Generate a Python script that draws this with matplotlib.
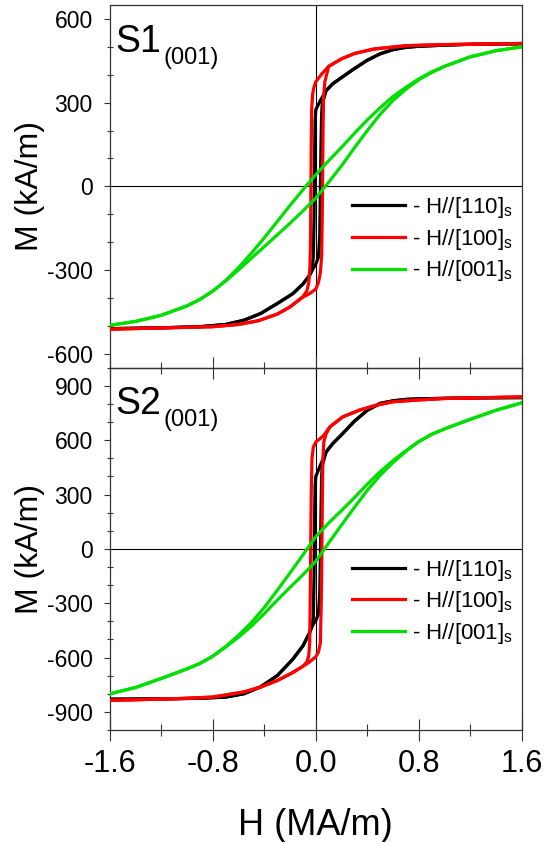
import matplotlib.pyplot as plt
from matplotlib.ticker import MultipleLocator

plt.rcParams['font.family'] = ['Liberation Sans', 'DejaVu Sans']
plt.rcParams['mathtext.fontset'] = 'custom'
plt.rcParams['mathtext.rm'] = 'Liberation Sans'
plt.rcParams['mathtext.it'] = 'Liberation Sans:italic'
plt.rcParams['axes.unicode_minus'] = False

# H in MA/m, M in kA/m; each loop is stored as its two branches
# --- S1 ---
H1_blk_dn = [1.6, 1.2, 1.0, 0.8, 0.7, 0.6, 0.5, 0.4, 0.3, 0.2, 0.13, 0.08, 0.04, 0.0,
             -0.006, -0.01, -0.014, -0.02, -0.03, -0.05, -0.1, -0.18, -0.3, -0.43,
             -0.56, -0.7, -0.9, -1.2, -1.6]
M1_blk_dn = [511, 509, 506, 502, 498, 490, 475, 452, 422, 390, 367, 343, 312, 275,
             235, 100, -120, -255, -295, -320, -350, -385, -420, -456,
             -480, -495, -503, -507, -510]
H1_blk_up = [-1.6, -1.2, -0.9, -0.7, -0.56, -0.43, -0.3, -0.18, -0.1, -0.05, -0.015,
             0.0, 0.02, 0.03, 0.035, 0.04, 0.045, 0.05, 0.08, 0.13, 0.2, 0.3, 0.4,
             0.5, 0.6, 0.7, 0.8, 1.0, 1.2, 1.6]
M1_blk_up = [-510, -507, -503, -495, -480, -456, -420, -385, -350, -320, -290,
             -278, -255, -180, -20, 150, 260, 295, 343, 367, 390, 422, 452,
             475, 490, 498, 502, 506, 509, 511]

H1_red_dn = [1.6, 1.0, 0.7, 0.45, 0.3, 0.2, 0.1, 0.05, 0.0, -0.015, -0.025, -0.032,
             -0.036, -0.039, -0.042, -0.047, -0.055, -0.07, -0.1, -0.2, -0.3, -0.45,
             -0.6, -0.8, -1.6]
M1_red_dn = [512, 508, 504, 492, 476, 457, 430, 405, 375, 355, 330, 280,
             150, -50, -220, -300, -345, -375, -395, -432, -458, -482,
             -495, -503, -512]
H1_red_up = [-1.6, -0.8, -0.6, -0.45, -0.3, -0.2, -0.1, -0.05, 0.0, 0.02, 0.035,
             0.045, 0.05, 0.053, 0.056, 0.06, 0.07, 0.1, 0.2, 0.3, 0.45, 0.7, 1.0, 1.6]
M1_red_up = [-512, -503, -495, -482, -458, -432, -397, -385, -368, -345, -310,
             -250, -100, 50, 200, 320, 375, 430, 457, 476, 492, 504, 508, 512]

H_grn = [-1.6, -1.4, -1.2, -1.0, -0.9, -0.8, -0.7, -0.6, -0.5, -0.4, -0.3, -0.2, -0.1,
         0.0, 0.1, 0.2, 0.3, 0.4, 0.5, 0.6, 0.7, 0.8, 0.9, 1.0, 1.2, 1.4, 1.6]
M1_grn_dn = [-498, -484, -462, -428, -405, -375, -337, -291, -239, -184, -126, -68, -12,
             42, 92, 140, 190, 238, 282, 322, 355, 385, 410, 430, 464, 486, 500]
M1_grn_up = [-498, -484, -462, -428, -405, -375, -339, -299, -257, -216, -174, -132, -88,
             -42, 15, 74, 138, 200, 258, 308, 348, 382, 408, 430, 464, 486, 500]

# --- S2 ---
H2_blk_dn = [1.6, 1.2, 1.0, 0.8, 0.7, 0.6, 0.5, 0.4, 0.3, 0.2, 0.13, 0.08, 0.04, 0.0,
             -0.006, -0.01, -0.014, -0.02, -0.03, -0.05, -0.1, -0.18, -0.3, -0.43,
             -0.56, -0.7, -0.9, -1.2, -1.6]
M2_blk_dn = [835, 833, 831, 828, 825, 817, 803, 765, 705, 630, 580, 535, 470, 400,
             350, 150, -150, -380, -420, -465, -535, -610, -700, -762,
             -800, -818, -825, -828, -830]
H2_blk_up = [-1.6, -1.2, -0.9, -0.7, -0.56, -0.43, -0.3, -0.18, -0.1, -0.05, -0.02,
             0.0, 0.02, 0.03, 0.035, 0.04, 0.045, 0.05, 0.08, 0.13, 0.2, 0.3, 0.4,
             0.5, 0.6, 0.7, 0.8, 1.0, 1.2, 1.6]
M2_blk_up = [-830, -828, -825, -818, -800, -762, -700, -610, -535, -465, -415,
             -395, -360, -250, -50, 200, 400, 460, 535, 580, 630, 705, 765,
             803, 817, 825, 828, 831, 833, 835]

H2_red_dn = [1.6, 1.0, 0.8, 0.6, 0.47, 0.34, 0.21, 0.11, 0.06, 0.0, -0.02, -0.03,
             -0.036, -0.04, -0.044, -0.048, -0.055, -0.07, -0.1, -0.18, -0.3, -0.43,
             -0.56, -0.8, -1.0, -1.6]
M2_red_dn = [839, 830, 822, 812, 793, 766, 729, 674, 625, 590, 560, 500,
             300, 0, -300, -520, -590, -625, -648, -683, -727, -763,
             -790, -818, -825, -837]
H2_red_up = [-1.6, -1.0, -0.8, -0.56, -0.43, -0.3, -0.18, -0.1, -0.05, 0.0, 0.02,
             0.035, 0.042, 0.047, 0.051, 0.055, 0.062, 0.08, 0.11, 0.21, 0.34, 0.47,
             0.6, 0.8, 1.0, 1.6]
M2_red_up = [-837, -825, -818, -790, -763, -727, -683, -648, -625, -595, -570,
             -520, -300, 0, 300, 500, 590, 635, 674, 729, 766, 793,
             812, 822, 830, 839]

M2_grn_dn = [-800, -765, -715, -662, -632, -592, -538, -477, -406, -323, -229, -132, -33,
             68, 143, 212, 283, 357, 426, 487, 542, 592, 632, 662, 715, 765, 806]
M2_grn_up = [-800, -765, -715, -662, -632, -592, -542, -487, -426, -357, -283, -212, -143,
             -68, 33, 132, 229, 323, 406, 477, 538, 592, 632, 662, 715, 765, 806]

labels = [r'- H//[110]$_\mathregular{s}$', r'- H//[100]$_\mathregular{s}$',
          r'- H//[001]$_\mathregular{s}$']
colors = ['#000000', '#ff0000', '#00e000']

LW = 2.3
SPINE = '#333333'


def draw_panel(ax, loops, ylim, ymajor, name, show_xlabels):
    ax.axhline(0, color='black', lw=0.8, zorder=1)
    ax.axvline(0, color='black', lw=0.8, zorder=1)
    handles = []
    for (h_dn, m_dn, h_up, m_up), c, lab in zip(loops, colors, labels):
        ln, = ax.plot(h_dn, m_dn, color=c, lw=LW, label=lab, zorder=3)
        ax.plot(h_up, m_up, color=c, lw=LW, zorder=3)
        handles.append(ln)

    ax.set_xlim(-1.6, 1.6)
    ax.set_ylim(*ylim)
    ax.xaxis.set_major_locator(MultipleLocator(0.8))
    ax.xaxis.set_minor_locator(MultipleLocator(0.4))
    ax.yaxis.set_major_locator(MultipleLocator(ymajor))
    ax.yaxis.set_minor_locator(MultipleLocator(100))
    ax.xaxis.set_major_formatter(plt.FuncFormatter(lambda v, p: f'{v:.1f}'))

    ax.tick_params(axis='x', which='major', direction='inout', length=16, width=0.8,
                   labelsize=22, pad=6, color=SPINE, labelbottom=show_xlabels)
    ax.tick_params(axis='x', which='minor', direction='inout', length=8.5, width=0.8,
                   color=SPINE)
    ax.tick_params(axis='y', which='major', direction='out', length=4.5, width=0.8,
                   labelsize=16.5, pad=8, color=SPINE)
    ax.tick_params(axis='y', which='minor', direction='inout', length=4, width=0.8,
                   color=SPINE)
    for s in ax.spines.values():
        s.set_color(SPINE)
        s.set_linewidth(0.9)

    ax.set_ylabel('M (kA/m)', fontsize=23)
    ax.yaxis.set_label_coords(-0.157, 0.5)

    # sample name with its (001) orientation set as a lowered, smaller suffix
    ax.text(0.012, 0.871, name, transform=ax.transAxes, fontsize=27,
            ha='left', va='baseline')
    ax.text(0.131, 0.838, '(001)', transform=ax.transAxes, fontsize=17,
            ha='left', va='baseline')

    ax.legend(handles=handles, loc='upper left', bbox_to_anchor=(0.588, 0.476),
              frameon=False, fontsize=16, handlelength=2.4, handletextpad=0.28,
              labelspacing=0.3, borderpad=0, borderaxespad=0)


fig = plt.figure(figsize=(5.57, 8.42), dpi=100)
ax1 = fig.add_axes([0.1975, 0.5633, 0.7391, 0.4308])
ax2 = fig.add_axes([0.1975, 0.1330, 0.7391, 0.4303])
ax2.set_facecolor('none')

draw_panel(ax1,
           [(H1_blk_dn, M1_blk_dn, H1_blk_up, M1_blk_up),
            (H1_red_dn, M1_red_dn, H1_red_up, M1_red_up),
            (H_grn, M1_grn_dn, H_grn, M1_grn_up)],
           (-650, 650), 300, 'S1', False)
draw_panel(ax2,
           [(H2_blk_dn, M2_blk_dn, H2_blk_up, M2_blk_up),
            (H2_red_dn, M2_red_dn, H2_red_up, M2_red_up),
            (H_grn, M2_grn_dn, H_grn, M2_grn_up)],
           (-1000, 1000), 300, 'S2', True)

ax2.set_xlabel('H (MA/m)', fontsize=26)
ax2.xaxis.set_label_coords(0.5, -0.215)

plt.savefig('out.png', dpi=100, facecolor='white')
plt.close()
